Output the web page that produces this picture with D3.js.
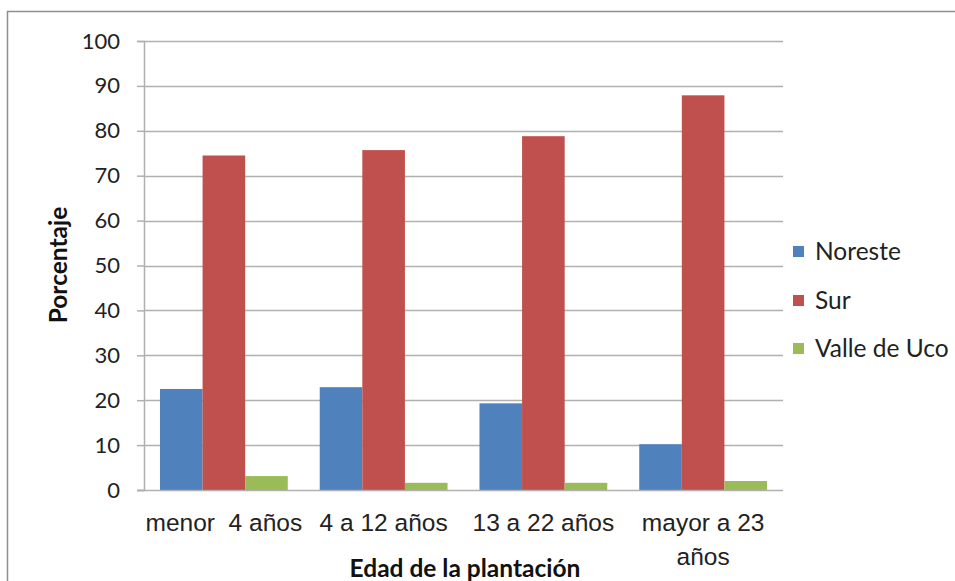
<!DOCTYPE html>
<html>
<head>
<meta charset="utf-8">
<script src="https://cdn.jsdelivr.net/npm/d3@7"></script>
<style>
  html, body { margin: 0; padding: 0; background: #fff; }
  svg { display: block; font-family: Lato, "Open Sans", sans-serif; }
  text { white-space: pre; }
</style>
</head>
<body>
<svg id="chart" width="955" height="581"></svg>
<script>
const categories = ["menor  4 años", "4 a 12 años", "13 a 22 años", "mayor a 23 años"];
const seriesNames = ["Noreste", "Sur", "Valle de Uco"];
const noreste = [22.5, 22.9, 19.3, 10.2];
const sur = [74.5, 75.7, 78.8, 87.9];
const valleDeUco = [3.1, 1.6, 1.6, 2.0];
const colors = ["#4F81BD", "#C0504D", "#9BBB59"];
const yTicks = [0, 10, 20, 30, 40, 50, 60, 70, 80, 90, 100];
const yTitle = "Porcentaje";
const xTitle = "Edad de la plantación";

const seriesValues = [noreste, sur, valleDeUco];
const svg = d3.select("#chart");
const FS = 24.5;

// outer border
svg.append("rect").attr("x", 7.5).attr("y", 11.5).attr("width", 1000).attr("height", 1000)
  .attr("fill", "none").attr("stroke", "#8f8f8f").attr("stroke-width", 1.5);

const plot = { left: 144, right: 783, top: 41, bottom: 490 };
const x0 = d3.scaleBand().domain(categories).range([plot.left, plot.right]).paddingInner(0).paddingOuter(0);
const x1 = d3.scaleBand().domain(seriesNames).range([0, x0.bandwidth()]).paddingInner(0).paddingOuter(0.375);
const y = d3.scaleLinear().domain([0, 100]).range([plot.bottom, plot.top]);

// gridlines
svg.append("g").selectAll("line").data(yTicks.filter(d => d > 0)).join("line")
  .attr("x1", plot.left).attr("x2", plot.right)
  .attr("y1", d => Math.round(y(d)) + 0.5).attr("y2", d => Math.round(y(d)) + 0.5)
  .attr("stroke", "#b0b0b0").attr("stroke-width", 1.5);

// y axis
const yAxis = svg.append("g").attr("transform", `translate(${plot.left},0)`)
  .call(d3.axisLeft(y).tickValues(yTicks).tickSize(7).tickPadding(17));
yAxis.select(".domain").attr("stroke", "#b0b0b0").attr("stroke-width", 1.5);
yAxis.selectAll(".tick line").attr("stroke", "#b0b0b0").attr("stroke-width", 1.5);
yAxis.selectAll(".tick text").attr("font-size", 22).attr("fill", "#222")
  .attr("font-family", "Lato, sans-serif");

// bars
const groups = svg.append("g").selectAll("g").data(categories).join("g")
  .attr("transform", d => `translate(${x0(d)},0)`);
groups.selectAll("rect").data((c, i) => seriesNames.map((s, j) => ({ s, v: seriesValues[j][i], j })))
  .join("rect")
  .attr("x", d => x1(d.s))
  .attr("width", x1.bandwidth())
  .attr("y", d => y(d.v))
  .attr("height", d => y(0) - y(d.v))
  .attr("fill", d => colors[d.j]);

// x axis line
svg.append("line").attr("x1", plot.left - 7).attr("x2", plot.right)
  .attr("y1", plot.bottom + 0.5).attr("y2", plot.bottom + 0.5)
  .attr("stroke", "#b0b0b0").attr("stroke-width", 1.5);

// x axis labels with wrapping
const xAxis = svg.append("g").attr("transform", `translate(0,${plot.bottom})`)
  .call(d3.axisBottom(x0).tickSize(0).tickPadding(0));
xAxis.select(".domain").remove();
xAxis.selectAll(".tick text").each(function(d) {
  const t = d3.select(this);
  t.text(null).attr("font-size", FS).attr("fill", "#222").attr("y", 0).attr("dy", null);
  const maxW = 162;
  const words = d.split(" ");
  let lines = [];
  let cur = "";
  const probe = t.append("tspan");
  const full = probe.text(d).node().getComputedTextLength();
  probe.remove();
  if (full <= maxW) lines = [d];
  else {
    words.forEach(w => {
      const test = cur ? cur + " " + w : w;
      const p = t.append("tspan").text(test);
      const wd = p.node().getComputedTextLength();
      p.remove();
      if (wd > maxW && cur) { lines.push(cur); cur = w; } else cur = test;
    });
    if (cur) lines.push(cur);
  }
  lines.forEach((ln, k) => {
    t.append("tspan").attr("x", 0).attr("y", 41 + k * 34).text(ln);
  });
});

// axis titles
svg.append("text").attr("x", 465).attr("y", 577).attr("text-anchor", "middle")
  .attr("font-size", FS).attr("font-weight", "bold").attr("fill", "#111").text(xTitle);
svg.append("text").attr("transform", "translate(67,265) rotate(-90)").attr("text-anchor", "middle")
  .attr("font-size", FS).attr("font-weight", "bold").attr("fill", "#111").text(yTitle);

// legend
const legendY = [251, 300, 348];
const lg = svg.append("g").selectAll("g").data(seriesNames).join("g")
  .attr("transform", (d, i) => `translate(793,${legendY[i]})`);
lg.append("rect").attr("x", 0).attr("y", -5).attr("width", 11).attr("height", 11)
  .attr("fill", (d, i) => colors[i]);
lg.append("text").attr("x", 22).attr("y", 0).attr("dy", "0.35em")
  .attr("font-size", FS).attr("fill", "#222").text(d => d);
</script>
</body>
</html>
